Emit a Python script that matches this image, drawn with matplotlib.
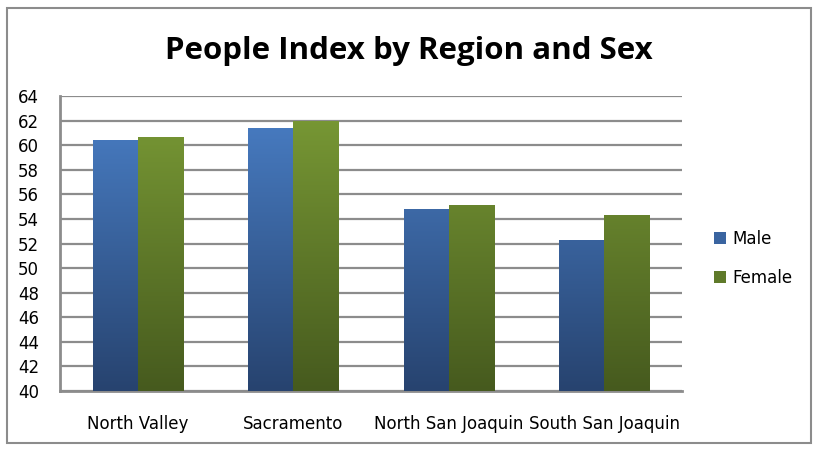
import matplotlib.pyplot as plt
import numpy as np
from matplotlib.colors import LinearSegmentedColormap
from matplotlib.patches import Patch, Rectangle
from matplotlib import font_manager

regions = ['North Valley', 'Sacramento', 'North San Joaquin', 'South San Joaquin']
male = [60.42, 61.4, 54.8, 52.3]
female = [60.67, 62.0, 55.1, 54.35]
yticks = list(range(40, 65, 2))

names = {f.name for f in font_manager.fontManager.ttflist}
body_font = 'Liberation Sans Narrow' if 'Liberation Sans Narrow' in names else 'DejaVu Sans'

blue_cmap = LinearSegmentedColormap.from_list('b', ['#27436f', '#4a80c8'])
green_cmap = LinearSegmentedColormap.from_list('g', ['#465a1e', '#7b9c36'])

fig = plt.figure(figsize=(8.18, 4.51), dpi=100)
ax = fig.add_axes([0.0733, 0.133, 0.7604, 0.654])

x = np.arange(len(regions))
w = 0.29
ymin, ymax = 40, 64
grad = np.linspace(0, 1, 256).reshape(-1, 1)


def gradient_bars(xs, vals, cmap):
    bars = ax.bar(xs, np.array(vals) - ymin, w, bottom=ymin, color='none', zorder=3)
    for b in bars:
        x0 = b.get_x()
        im = ax.imshow(grad, cmap=cmap, aspect='auto', origin='lower',
                       extent=[x0, x0 + b.get_width(), ymin, ymax], zorder=3)
        im.set_clip_path(b)


gradient_bars(x - w / 2, male, blue_cmap)
gradient_bars(x + w / 2, female, green_cmap)

ax.set_xlim(-0.5, len(regions) - 0.5)
ax.set_ylim(ymin, ymax)
ax.set_yticks(yticks)
ax.set_xticks(x)
ax.set_xticklabels(regions, fontsize=12, family=body_font)
for lbl in ax.get_yticklabels():
    lbl.set_fontsize(12)
    lbl.set_family(body_font)
ax.tick_params(axis='x', length=0, pad=17)
ax.tick_params(axis='y', length=0, pad=15)
ax.grid(axis='y', color='#8c8c8c', linewidth=1.6, zorder=0)
ax.set_axisbelow(True)
for s in ['top', 'right']:
    ax.spines[s].set_visible(False)
for s in ['left', 'bottom']:
    ax.spines[s].set_color('#8c8c8c')
    ax.spines[s].set_linewidth(2)

fig.text(0.50, 0.888, 'People Index by Region and Sex', ha='center', va='center',
         fontsize=22.5, fontweight='bold', family='Open Sans')

handles = [Patch(facecolor='#3a64a0', label='Male'),
           Patch(facecolor='#5f7a2a', label='Female')]
fig.legend(handles=handles, loc='center left', bbox_to_anchor=(0.855, 0.427),
           frameon=False, handlelength=0.7, handleheight=0.7,
           handletextpad=0.4, labelspacing=1.25, prop={'family': 'DejaVu Sans', 'size': 12})

fig.patches.append(Rectangle((0.009, 0.018), 0.982, 0.965, transform=fig.transFigure,
                             fill=False, edgecolor='#8c8c8c', linewidth=1.5))

fig.savefig('out.png', dpi=100)
